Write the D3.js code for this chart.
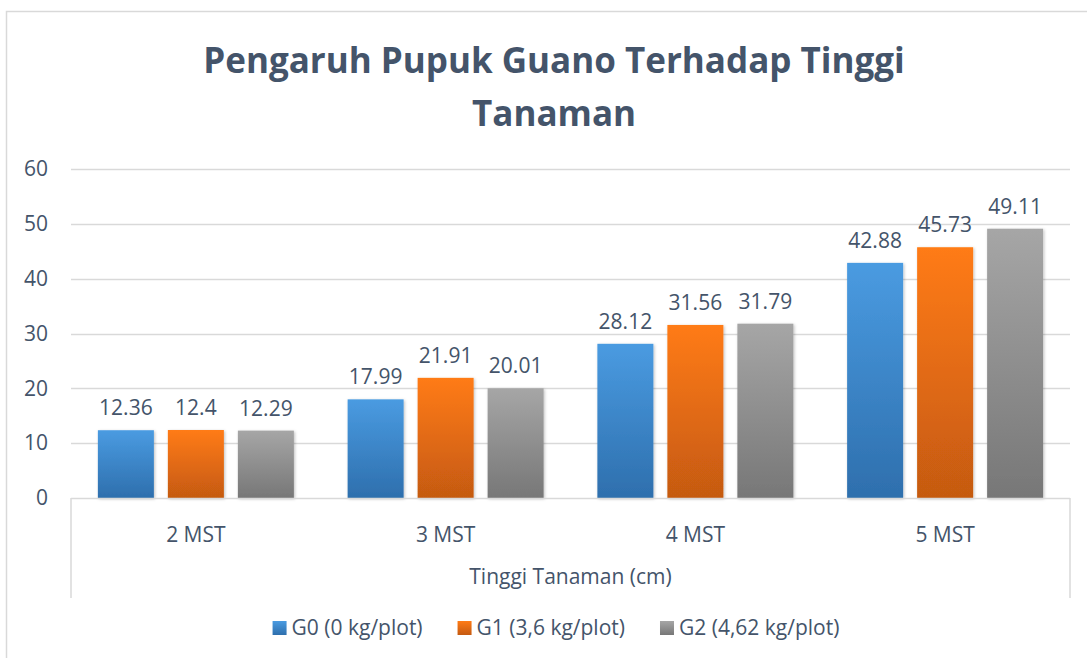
<!DOCTYPE html>
<html>
<head>
<meta charset="utf-8">
<script src="https://cdn.jsdelivr.net/npm/d3@7"></script>
<style>
   body { margin: 0; background: #ffffff; }
   svg { font-family: "Open Sans", "Noto Sans", sans-serif; }
</style>
</head>
<body>
<div id="chart"></div>
<script>

// Chart data.
const categories = ["2 MST", "3 MST", "4 MST", "5 MST"];
const seriesNames = ["G0 (0 kg/plot)", "G1 (3,6 kg/plot)", "G2 (4,62 kg/plot)"];
const g0Values = [12.36, 17.99, 28.12, 42.88];
const g1Values = [12.4, 21.91, 31.56, 45.73];
const g2Values = [12.29, 20.01, 31.79, 49.11];
const valueLabels = [
   ["12.36", "17.99", "28.12", "42.88"],
   ["12.4", "21.91", "31.56", "45.73"],
   ["12.29", "20.01", "31.79", "49.11"]
];
const yTicks = [0, 10, 20, 30, 40, 50, 60];
const titleLines = ["Pengaruh Pupuk Guano Terhadap Tinggi", "Tanaman"];
const axisTitle = "Tinggi Tanaman (cm)";

const seriesValues = [g0Values, g1Values, g2Values];
const gradients = [
   ["#4a9be1", "#2e6fad"],
   ["#ff7b15", "#c55a11"],
   ["#a6a6a6", "#777777"]
];

const width = 1087, height = 658;
const plot = {left: 71, right: 1070, top: 169, bottom: 498};
const textColor = "#44546a";
const lineColor = "#d9d9d9";
const fontSize = 21;

let svg = d3.select("#chart")
   .append("svg")
   .attr("width", width)
   .attr("height", height);

// Gradients and a soft shadow for the bars.
let defs = svg.append("defs");
gradients.forEach(function(g, i) {
   let grad = defs.append("linearGradient")
      .attr("id", "grad" + i)
      .attr("x1", 0).attr("y1", 0)
      .attr("x2", 0).attr("y2", 1);
   grad.append("stop").attr("offset", "0%").attr("stop-color", g[0]);
   grad.append("stop").attr("offset", "100%").attr("stop-color", g[1]);
});
defs.append("filter")
   .attr("id", "shadow")
   .attr("x", "-20%").attr("y", "-10%")
   .attr("width", "140%").attr("height", "120%")
   .append("feDropShadow")
   .attr("dx", 1).attr("dy", 1)
   .attr("stdDeviation", 1.5)
   .attr("flood-color", "#000")
   .attr("flood-opacity", 0.25);

// Outer chart border (runs off the picture at right and bottom).
svg.append("rect")
   .attr("x", 6.5).attr("y", 11.5)
   .attr("width", 1200).attr("height", 800)
   .attr("fill", "none")
   .attr("stroke", lineColor)
   .attr("stroke-width", 1.5);

// Title
svg.append("g")
   .selectAll("text")
   .data(titleLines)
   .enter()
   .append("text")
      .attr("x", 554)
      .attr("y", function(d, i) { return 73 + i * 53; })
      .attr("text-anchor", "middle")
      .attr("font-size", 35)
      .attr("font-weight", "bold")
      .attr("fill", textColor)
      .text(function(d) { return d; });

// Scales
let y = d3.scaleLinear()
   .domain([0, 60])
   .range([plot.bottom, plot.top]);

let x0 = d3.scaleBand()
   .domain(categories)
   .range([plot.left, plot.right])
   .padding(0);

let x1 = d3.scaleBand()
   .domain(d3.range(seriesNames.length))
   .range([0, x0.bandwidth()])
   .paddingInner(0.2)
   .paddingOuter(0.384);

// Gridlines
svg.append("g")
   .selectAll("line")
   .data(yTicks.filter(function(t) { return t > 0; }))
   .enter()
   .append("line")
      .attr("x1", plot.left).attr("x2", plot.right)
      .attr("y1", function(d) { return Math.round(y(d)) + 0.5; })
      .attr("y2", function(d) { return Math.round(y(d)) + 0.5; })
      .attr("stroke", lineColor)
      .attr("stroke-width", 1.3);

// Y axis tick labels
let yAxis = svg.append("g")
   .attr("transform", "translate(" + (plot.left - 23) + ",0)")
   .call(d3.axisLeft(y).tickValues(yTicks).tickSize(0).tickPadding(0));
yAxis.select(".domain").remove();
yAxis.selectAll("text")
   .attr("font-family", "Open Sans, sans-serif")
   .attr("font-size", fontSize)
   .attr("fill", textColor);

// Bars
let groups = svg.append("g")
   .selectAll("g")
   .data(seriesValues)
   .enter()
   .append("g")
      .attr("fill", function(d, i) { return "url(#grad" + i + ")"; });

groups.selectAll("rect")
   .data(function(d, i) { return d.map(function(v, j) { return {s: i, c: categories[j], v: v}; }); })
   .enter()
   .append("rect")
      .attr("x", function(d) { return x0(d.c) + x1(d.s); })
      .attr("y", function(d) { return y(d.v); })
      .attr("width", x1.bandwidth())
      .attr("height", function(d) { return y(0) - y(d.v); })
      .attr("filter", "url(#shadow)");

// Data labels above the bars
groups.selectAll("text")
   .data(function(d, i) { return d.map(function(v, j) { return {s: i, c: categories[j], v: v, label: valueLabels[i][j]}; }); })
   .enter()
   .append("text")
      .attr("x", function(d) { return x0(d.c) + x1(d.s) + x1.bandwidth() / 2; })
      .attr("y", function(d) { return y(d.v) - 15; })
      .attr("text-anchor", "middle")
      .attr("font-size", fontSize)
      .attr("fill", textColor)
      .text(function(d) { return d.label; });

// Category axis: baseline, outer group lines, labels and title
svg.append("line")
   .attr("x1", plot.left).attr("x2", plot.right)
   .attr("y1", plot.bottom + 0.5).attr("y2", plot.bottom + 0.5)
   .attr("stroke", lineColor)
   .attr("stroke-width", 1.5);

svg.append("g")
   .selectAll("line")
   .data([plot.left, plot.right])
   .enter()
   .append("line")
      .attr("x1", function(d) { return d; })
      .attr("x2", function(d) { return d; })
      .attr("y1", plot.bottom)
      .attr("y2", 598)
      .attr("stroke", lineColor)
      .attr("stroke-width", 1.5);

svg.append("g")
   .selectAll("text")
   .data(categories)
   .enter()
   .append("text")
      .attr("x", function(d) { return x0(d) + x0.bandwidth() / 2; })
      .attr("y", 542)
      .attr("text-anchor", "middle")
      .attr("font-size", fontSize)
      .attr("fill", textColor)
      .text(function(d) { return d; });

svg.append("text")
   .attr("x", (plot.left + plot.right) / 2)
   .attr("y", 584)
   .attr("text-anchor", "middle")
   .attr("font-size", fontSize)
   .attr("fill", textColor)
   .text(axisTitle);

// Legend, laid out from the measured text widths and centred
let legend = svg.append("g");
let items = legend.selectAll("g")
   .data(seriesNames)
   .enter()
   .append("g");
items.append("rect")
   .attr("width", 14).attr("height", 14)
   .attr("y", -14)
   .attr("fill", function(d, i) { return "url(#grad" + i + ")"; });
items.append("text")
   .attr("x", 19)
   .attr("font-size", fontSize)
   .attr("fill", textColor)
   .text(function(d) { return d; });

let offsets = [], pos = 0;
items.each(function() {
   offsets.push(pos);
   pos += 19 + this.querySelector("text").getComputedTextLength() + 35;
});
let total = pos - 35;
items.attr("transform", function(d, i) { return "translate(" + offsets[i] + ",0)"; });
legend.attr("transform", "translate(" + (556 - total / 2) + ",635)");

</script>
</body>
</html>
